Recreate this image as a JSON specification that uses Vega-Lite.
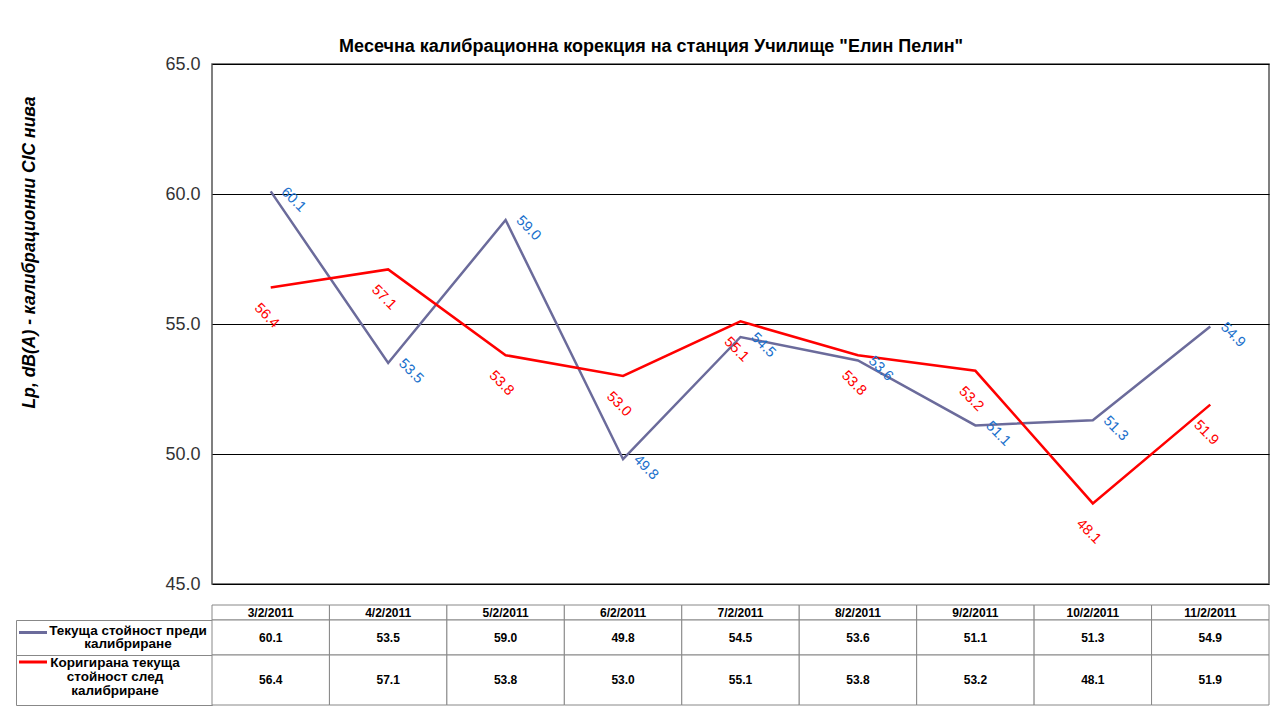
{
  "$schema": "https://vega.github.io/schema/vega-lite/v6.json",
  "padding": {"left": 12, "top": 38, "right": 10, "bottom": 8},
  "background": "white",
  "title": {"text": "Месечна калибрационна  корекция на станция Училище \"Елин Пелин\"", "fontSize": 18, "fontWeight": "bold", "font": "Liberation Sans", "color": "black", "anchor": "middle", "offset": -2, "dx": 10},
  "config": {"font": "Liberation Sans", "view": {"stroke": null}},
  "datasets": {
    "d": [
      {"date": "3/2/2011", "series": "Текуща стойност преди калибриране", "value": 60.1},
      {"date": "4/2/2011", "series": "Текуща стойност преди калибриране", "value": 53.5},
      {"date": "5/2/2011", "series": "Текуща стойност преди калибриране", "value": 59.0},
      {"date": "6/2/2011", "series": "Текуща стойност преди калибриране", "value": 49.8},
      {"date": "7/2/2011", "series": "Текуща стойност преди калибриране", "value": 54.5},
      {"date": "8/2/2011", "series": "Текуща стойност преди калибриране", "value": 53.6},
      {"date": "9/2/2011", "series": "Текуща стойност преди калибриране", "value": 51.1},
      {"date": "10/2/2011", "series": "Текуща стойност преди калибриране", "value": 51.3},
      {"date": "11/2/2011", "series": "Текуща стойност преди калибриране", "value": 54.9},
      {"date": "3/2/2011", "series": "Коригирана текуща стойност след калибриране", "value": 56.4},
      {"date": "4/2/2011", "series": "Коригирана текуща стойност след калибриране", "value": 57.1},
      {"date": "5/2/2011", "series": "Коригирана текуща стойност след калибриране", "value": 53.8},
      {"date": "6/2/2011", "series": "Коригирана текуща стойност след калибриране", "value": 53.0},
      {"date": "7/2/2011", "series": "Коригирана текуща стойност след калибриране", "value": 55.1},
      {"date": "8/2/2011", "series": "Коригирана текуща стойност след калибриране", "value": 53.8},
      {"date": "9/2/2011", "series": "Коригирана текуща стойност след калибриране", "value": 53.2},
      {"date": "10/2/2011", "series": "Коригирана текуща стойност след калибриране", "value": 48.1},
      {"date": "11/2/2011", "series": "Коригирана текуща стойност след калибриране", "value": 51.9}
    ]
  },
  "columns": 2,
  "bounds": "flush",
  "spacing": {"row": 21, "column": 0},
  "concat": [
    {
      "width": 196, "height": 520,
      "data": {"values": [{"t": ""}]},
      "mark": {"type": "text"},
      "encoding": {"text": {"field": "t"}}
    },
    {
      "width": 1057,
      "height": 520,
      "view": {"stroke": "#555555", "strokeWidth": 1.5},
      "data": {"name": "d"},
      "encoding": {
        "x": {"field": "date", "type": "ordinal", "sort": null, "axis": null},
        "y": {
          "field": "value", "type": "quantitative",
          "scale": {"domain": [45, 65], "nice": false, "zero": false},
          "axis": {
            "values": [45, 50, 55, 60, 65], "format": ".1f",
            "title": "Lp, dB(A) - калибрационни CIC нива",
            "titleFontSize": 17.5, "titleFontWeight": "bold", "titleFontStyle": "italic", "titleColor": "black",
            "titleX": -183, "titleY": 188, "titleAngle": 270, "titleAlign": "center", "titleBaseline": "middle",
            "labelFontSize": 18, "labelColor": "#333333", "labelPadding": 12,
            "ticks": false, "domain": false, "grid": true, "gridColor": "black", "gridWidth": 1.2
          }
        }
      },
      "layer": [
        {
          "mark": {"type": "line", "strokeWidth": 2.5},
          "encoding": {
            "color": {"field": "series", "type": "nominal", "legend": null,
              "scale": {"domain": ["Текуща стойност преди калибриране", "Коригирана текуща стойност след калибриране"], "range": ["#6b6b9b", "#ff0000"]}}
          }
        },
        {
          "transform": [{"filter": "datum.series == 'Текуща стойност преди калибриране'"}],
          "mark": {"type": "text", "angle": 45, "dx": 22, "dy": -10, "fontSize": 14.5, "color": "#1a70cc"},
          "encoding": {"text": {"field": "value", "type": "quantitative", "format": ".1f"}}
        },
        {
          "transform": [{"filter": "datum.series == 'Коригирана текуща стойност след калибриране'"}],
          "mark": {"type": "text", "angle": 45, "dx": 17, "dy": 23, "fontSize": 14.5, "color": "#ff0000"},
          "encoding": {"text": {"field": "value", "type": "quantitative", "format": ".1f"}}
        }
      ]
    },
    {
      "spacing": 0,
      "bounds": "flush",
      "vconcat": [
        {
          "width": 196, "height": 15,
          "data": {"values": [{"t": ""}]},
          "mark": {"type": "text"},
          "encoding": {"text": {"field": "t"}}
        },
        {
          "width": 196, "height": 35,
          "view": {"stroke": "#888888", "strokeWidth": 1},
          "data": {"values": [{"label": "Текуща стойност преди\nкалибриране"}]},
          "layer": [
            {"mark": {"type": "text", "lineBreak": "\n", "fontWeight": "bold", "fontSize": 13.5, "lineHeight": 13, "dx": 14, "dy": -7, "color": "black"}, "encoding": {"text": {"field": "label"}}},
            {"mark": {"type": "point", "shape": "stroke", "size": 784, "strokeWidth": 3, "color": "#6b6b9b", "filled": false, "opacity": 1, "xOffset": -81, "yOffset": -5}, "encoding": {}}
          ]
        },
        {
          "width": 196, "height": 50,
          "view": {"stroke": "#888888", "strokeWidth": 1},
          "data": {"values": [{"label": "Коригирана текуща\nстойност след\nкалибриране"}]},
          "layer": [
            {"mark": {"type": "text", "lineBreak": "\n", "fontWeight": "bold", "fontSize": 13.5, "lineHeight": 14, "dx": 1, "dy": -17, "color": "black"}, "encoding": {"text": {"field": "label"}}},
            {"mark": {"type": "point", "shape": "stroke", "size": 784, "strokeWidth": 3, "color": "#ff0000", "filled": false, "opacity": 1, "xOffset": -81, "yOffset": -18}, "encoding": {}}
          ]
        }
      ]
    },
    {
      "spacing": 0,
      "bounds": "flush",
      "vconcat": [
        {
          "width": 1057, "height": 15,
          "data": {"name": "d"},
          "transform": [{"filter": "datum.series == 'Текуща стойност преди калибриране'"}],
          "encoding": {"x": {"field": "date", "type": "ordinal", "sort": null, "axis": null, "scale": {"paddingInner": 0, "paddingOuter": 0}}},
          "layer": [
            {"mark": {"type": "rect", "fill": "white", "stroke": "#888888", "strokeWidth": 1}},
            {"mark": {"type": "text", "fontWeight": "bold", "fontSize": 12, "color": "black"}, "encoding": {"text": {"field": "date"}}}
          ]
        },
        {
          "width": 1057, "height": 35,
          "data": {"name": "d"},
          "transform": [{"filter": "datum.series == 'Текуща стойност преди калибриране'"}],
          "encoding": {"x": {"field": "date", "type": "ordinal", "sort": null, "axis": null, "scale": {"paddingInner": 0, "paddingOuter": 0}}},
          "layer": [
            {"mark": {"type": "rect", "fill": "white", "stroke": "#888888", "strokeWidth": 1}},
            {"mark": {"type": "text", "fontWeight": "bold", "fontSize": 12, "color": "black"}, "encoding": {"text": {"field": "value", "type": "quantitative", "format": ".1f"}}}
          ]
        },
        {
          "width": 1057, "height": 50,
          "data": {"name": "d"},
          "transform": [{"filter": "datum.series == 'Коригирана текуща стойност след калибриране'"}],
          "encoding": {"x": {"field": "date", "type": "ordinal", "sort": null, "axis": null, "scale": {"paddingInner": 0, "paddingOuter": 0}}},
          "layer": [
            {"mark": {"type": "rect", "fill": "white", "stroke": "#888888", "strokeWidth": 1}},
            {"mark": {"type": "text", "fontWeight": "bold", "fontSize": 12, "color": "black"}, "encoding": {"text": {"field": "value", "type": "quantitative", "format": ".1f"}}}
          ]
        }
      ]
    }
  ]
}
